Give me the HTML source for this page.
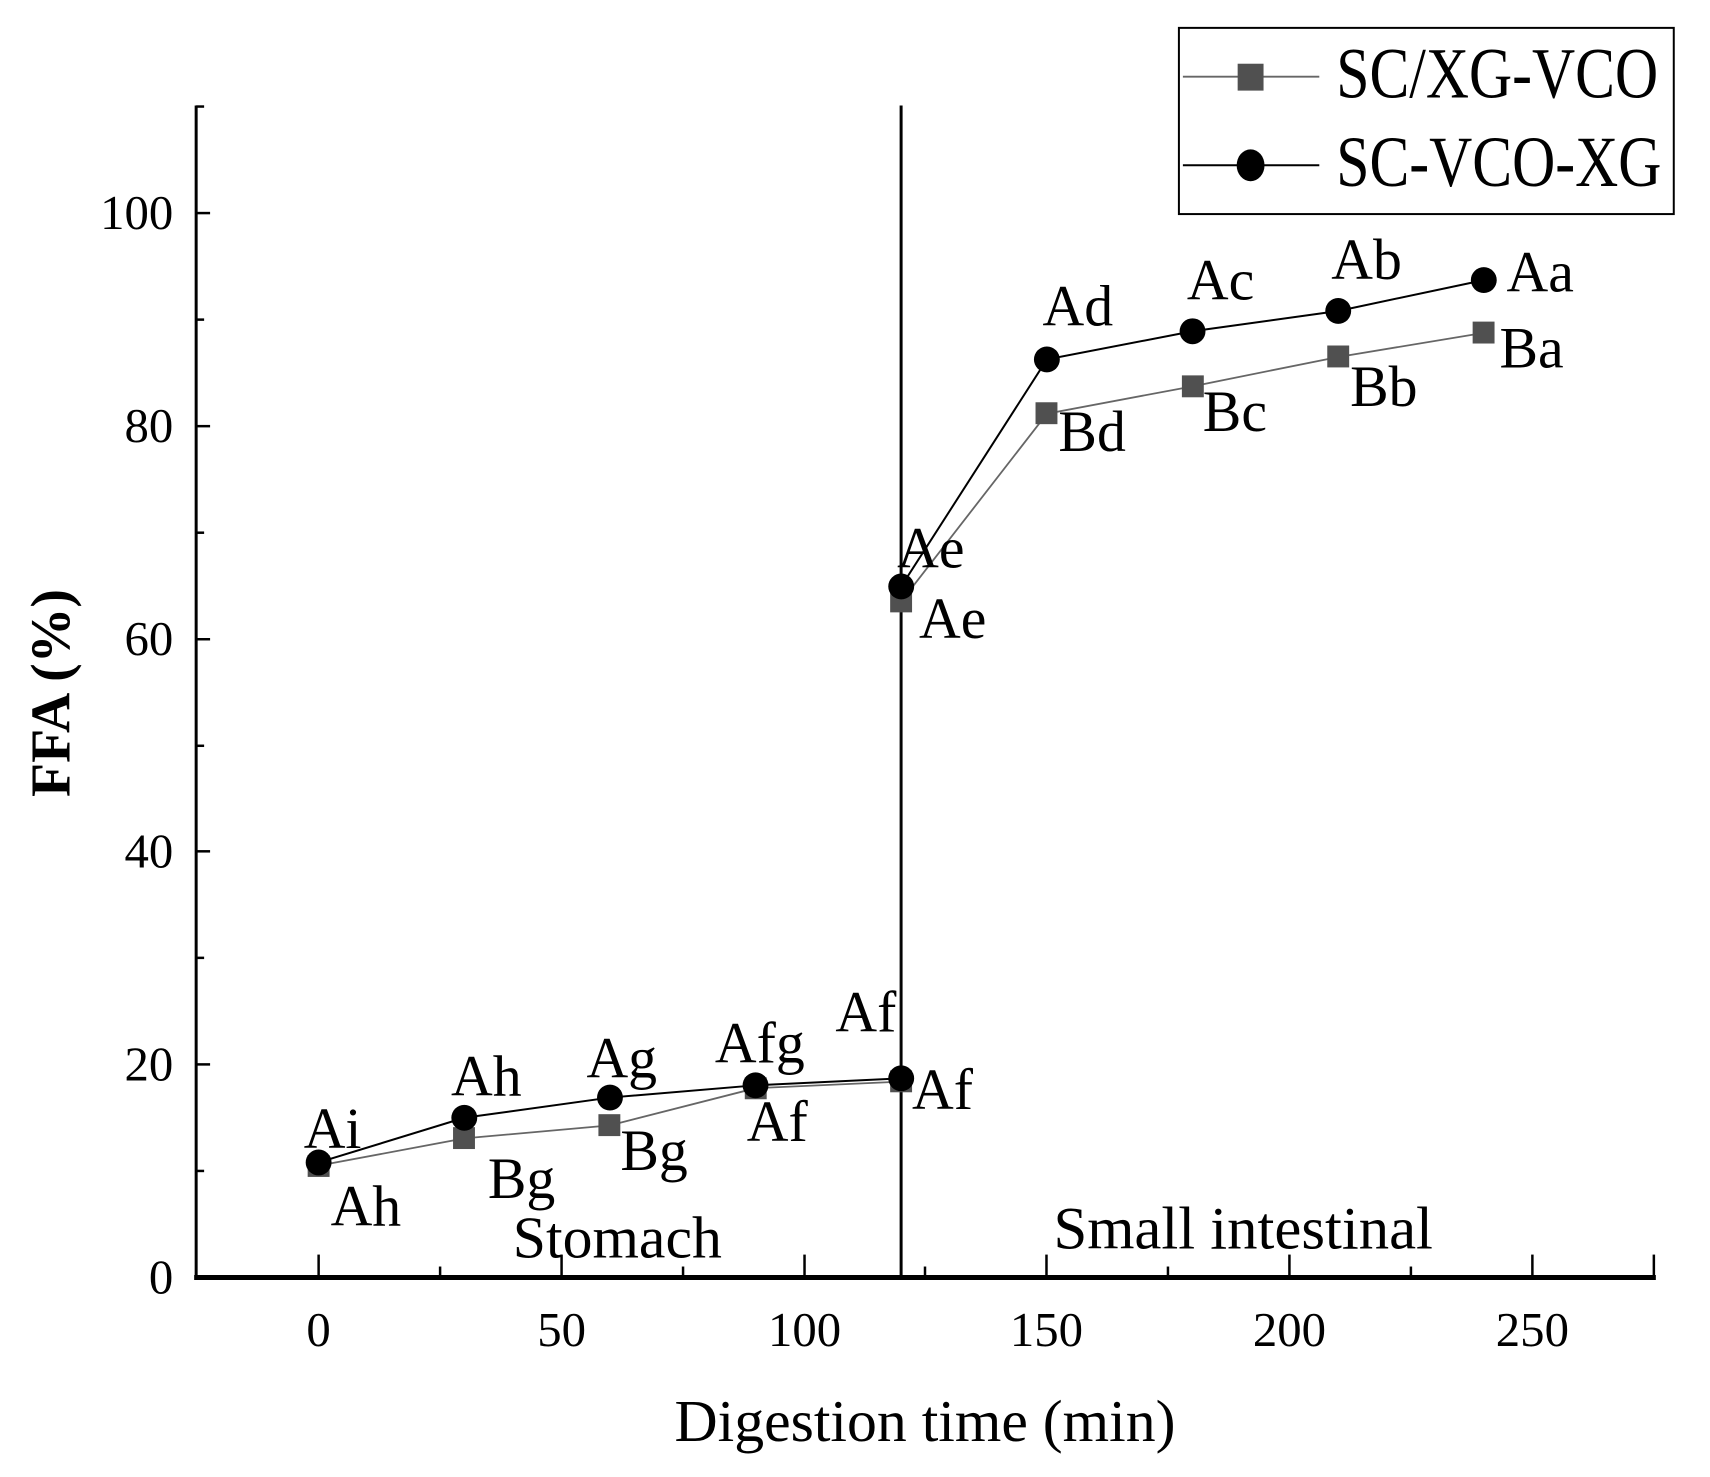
<!DOCTYPE html>
<html><head><meta charset="utf-8"><style>html,body{margin:0;padding:0;background:#fff}svg{display:block}text{font-family:"Liberation Serif",serif;fill:#000}</style></head>
<body>
<svg width="1710" height="1477" viewBox="0 0 1710 1477" xmlns="http://www.w3.org/2000/svg">
<g transform="scale(0.9957)">
<!-- axes -->
<line x1="197" y1="106" x2="197" y2="1285" stroke="#000" stroke-width="3"/>
<line x1="195" y1="1283" x2="1663" y2="1283" stroke="#000" stroke-width="5"/>
<line x1="905" y1="106" x2="905" y2="1283" stroke="#000" stroke-width="3"/>
<g stroke="#000" stroke-width="2.5">
<line x1="320" y1="1283" x2="320" y2="1260"/><line x1="564" y1="1283" x2="564" y2="1260"/><line x1="808" y1="1283" x2="808" y2="1260"/><line x1="1051" y1="1283" x2="1051" y2="1260"/><line x1="1295" y1="1283" x2="1295" y2="1260"/><line x1="1539" y1="1283" x2="1539" y2="1260"/><line x1="1661" y1="1283" x2="1661" y2="1260"/>
<line x1="442" y1="1283" x2="442" y2="1272"/><line x1="686" y1="1283" x2="686" y2="1272"/><line x1="929" y1="1283" x2="929" y2="1272"/><line x1="1173" y1="1283" x2="1173" y2="1272"/><line x1="1417" y1="1283" x2="1417" y2="1272"/>
<line x1="197" y1="1069" x2="211" y2="1069"/><line x1="197" y1="855" x2="211" y2="855"/><line x1="197" y1="642" x2="211" y2="642"/><line x1="197" y1="428" x2="211" y2="428"/><line x1="197" y1="214" x2="211" y2="214"/>
<line x1="197" y1="1176" x2="205" y2="1176"/><line x1="197" y1="962" x2="205" y2="962"/><line x1="197" y1="749" x2="205" y2="749"/><line x1="197" y1="535" x2="205" y2="535"/><line x1="197" y1="321" x2="205" y2="321"/><line x1="197" y1="107" x2="205" y2="107"/>
</g>
<!-- tick labels -->
<g font-size="49" text-anchor="middle">
<text x="320" y="1352">0</text><text x="564" y="1352">50</text><text x="808" y="1352">100</text><text x="1051" y="1352">150</text><text x="1295" y="1352">200</text><text x="1539" y="1352">250</text>
</g>
<g font-size="49" text-anchor="end">
<text x="174" y="1299">0</text><text x="174" y="1085">20</text><text x="174" y="871">40</text><text x="174" y="658">60</text><text x="174" y="444">80</text><text x="174" y="230">100</text>
</g>
<text x="929" y="1447" font-size="60" text-anchor="middle">Digestion time (min)</text>
<text transform="translate(70,696) rotate(-90)" font-size="56" font-weight="bold" text-anchor="middle">FFA (%)</text>
<!-- series -->
<polyline fill="none" stroke="#666" stroke-width="1.8" points="320,1170.7 466.3,1143.3 612.6,1130.2 758.8,1092.9 905.1,1086.3 905.1,604 1051.4,415.5 1197.7,388 1344,358.5 1490.2,334.3"/>
<polyline fill="none" stroke="#000" stroke-width="2" points="320,1167.5 466.3,1122.6 612.6,1102.3 758.8,1090 905.1,1083 905.1,589 1051.4,361 1197.7,332.7 1344,312.3 1490.2,281.3"/>
<g fill="#505050">
<rect x="309" y="1160" width="22" height="22"/><rect x="455" y="1132" width="22" height="22"/><rect x="601" y="1119" width="22" height="22"/><rect x="748" y="1082" width="22" height="22"/><rect x="894" y="1075" width="22" height="22"/><rect x="894" y="593" width="22" height="22"/><rect x="1040" y="404" width="22" height="22"/><rect x="1187" y="377" width="22" height="22"/><rect x="1333" y="347" width="22" height="22"/><rect x="1479" y="323" width="22" height="22"/>
</g>
<g fill="#000">
<circle cx="320" cy="1167.5" r="13"/><circle cx="466.3" cy="1122.6" r="13"/><circle cx="612.6" cy="1102.3" r="13"/><circle cx="758.8" cy="1090" r="13"/><circle cx="905.1" cy="1083" r="13"/><circle cx="905.1" cy="589" r="13"/><circle cx="1051.4" cy="361" r="13"/><circle cx="1197.7" cy="332.7" r="13"/><circle cx="1344" cy="312.3" r="13"/><circle cx="1490.2" cy="281.3" r="13"/>
</g>
<!-- point labels -->
<g font-size="58">
<text x="305" y="1153">Ai</text><text x="332" y="1231">Ah</text>
<text x="453" y="1100">Ah</text><text x="490" y="1203">Bg</text>
<text x="589" y="1082">Ag</text><text x="623" y="1175">Bg</text>
<text x="718" y="1067">Afg</text><text x="750" y="1146">Af</text>
<text x="839" y="1036">Af</text><text x="916" y="1114">Af</text>
<text x="901" y="570">Ae</text><text x="923" y="641">Ae</text>
<text x="1047" y="327">Ad</text><text x="1063" y="453">Bd</text>
<text x="1192" y="301">Ac</text><text x="1208" y="433">Bc</text>
<text x="1337" y="280">Ab</text><text x="1356" y="408">Bb</text>
<text x="1513" y="293">Aa</text><text x="1506" y="369">Ba</text>
</g>
<text x="515" y="1263" font-size="60">Stomach</text>
<text x="1058" y="1254" font-size="61">Small intestinal</text>
<!-- legend -->
<rect x="1184" y="28" width="497" height="187" fill="#fff" stroke="#000" stroke-width="2"/>
<line x1="1188" y1="77" x2="1325" y2="77" stroke="#666" stroke-width="1.8"/>
<rect x="1243" y="64" width="26" height="27" fill="#505050"/>
<line x1="1188" y1="166" x2="1325" y2="166" stroke="#000" stroke-width="2"/>
<ellipse cx="1256" cy="166" rx="14" ry="16" fill="#000"/>
<text transform="translate(1342,98) scale(1,1.2)" font-size="60">SC/XG-VCO</text>
<text transform="translate(1342,187) scale(1,1.2)" font-size="60">SC-VCO-XG</text>
</g>
</svg>
</body></html>
